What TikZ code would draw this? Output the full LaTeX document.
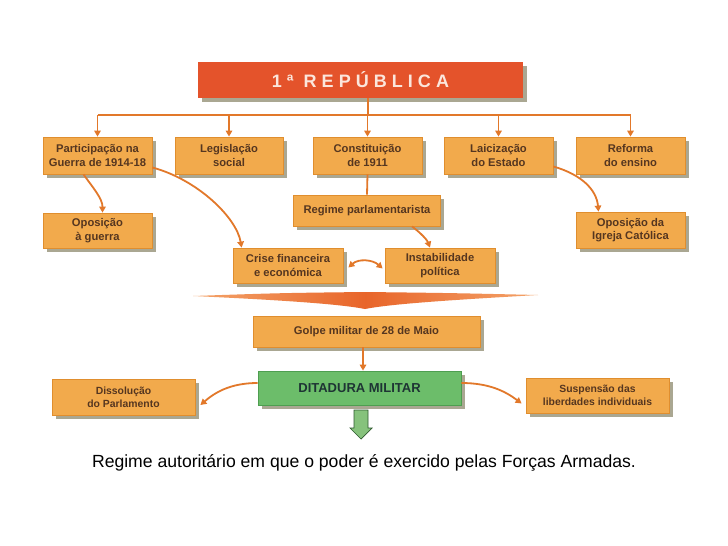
\documentclass[tikz,border=0pt]{standalone}
\usepackage{fontspec}
\setmainfont{Liberation Sans}
\usetikzlibrary{arrows.meta,shadows}
\definecolor{boxfill}{HTML}{F2AA4C}
\definecolor{boxline}{HTML}{E08E2E}
\definecolor{boxtext}{HTML}{553620}
\definecolor{shadowc}{HTML}{8E8A6E}
\definecolor{conncol}{HTML}{E2782A}
\definecolor{titlefill}{HTML}{E4532B}
\definecolor{titletext}{HTML}{FBE6DC}
\definecolor{greenfill}{HTML}{6CBD6A}
\definecolor{greenline}{HTML}{4E9E50}
\definecolor{greentext}{HTML}{1E3434}
\definecolor{arrowgreen}{HTML}{86C27C}
\definecolor{arrowline}{HTML}{2E5A2E}
\definecolor{chevdark}{HTML}{E8652A}
\definecolor{chevlight}{HTML}{F4A46A}
\tikzset{
  shad/.style={drop shadow={shadow xshift=3.5pt,shadow yshift=-3.5pt,fill=shadowc,opacity=.75}},
  orbox/.style={shad,draw=boxline,line width=0.8pt,fill=boxfill,text=boxtext,align=center,
    inner sep=1pt,font=\bfseries\fontsize{11.2}{13.5}\selectfont},
  smallbox/.style={orbox,font=\bfseries\fontsize{10.4}{13}\selectfont},
  conn/.style={draw=conncol,line width=1.8pt},
  tip/.style={-{Triangle[length=6pt,width=6.5pt]}},
  tips/.style={{Triangle[length=6pt,width=6.5pt]}-{Triangle[length=6pt,width=6.5pt]}}
}
\begin{document}
\begin{tikzpicture}[x=1pt,y=-1pt]
\useasboundingbox (0,0) rectangle (728,546);
\fill[white] (0,0) rectangle (728,546);

% title
\node[shad,fill=titlefill,minimum width=325pt,minimum height=36pt,inner sep=0pt,
  text=titletext,font=\bfseries\fontsize{18}{20}\selectfont\addfontfeatures{LetterSpace=28}]
  (title) at (360.5,80) {1ª REPÚBLICA};

% first row
\node[orbox,minimum width=109pt,minimum height=37pt] (part) at (97.5,155.5) {Participação na\\Guerra de 1914-18};
\node[orbox,minimum width=108pt,minimum height=37pt] (leg) at (229,155.5) {Legislação\\social};
\node[orbox,minimum width=109pt,minimum height=37pt] (const) at (367.5,155.5) {Constituição\\de 1911};
\node[orbox,minimum width=109pt,minimum height=37pt] (laic) at (498.5,155.5) {Laicização\\do Estado};
\node[orbox,minimum width=109pt,minimum height=37pt] (ref) at (630.5,155.5) {Reforma\\do ensino};

% second row
\node[orbox,minimum width=147pt,minimum height=31pt] (regime) at (367,210.5) {Regime parlamentarista};
\node[orbox,minimum width=109pt,minimum height=35pt] (opg) at (97.5,230.5) {Oposição\\à guerra};
\node[orbox,minimum width=109pt,minimum height=36pt] (opi) at (630.5,230) {Oposição da\\Igreja Católica};
\node[orbox,minimum width=110pt,minimum height=35pt] (crise) at (288,265.5) {Crise financeira\\e económica};
\node[orbox,minimum width=110pt,minimum height=35pt] (inst) at (440,265.5) {Instabilidade\\política};

% chevron
\path[left color=chevlight,right color=chevlight,middle color=chevdark]
  (193,296) .. controls (280,293) .. (365,292) .. controls (450,293) .. (538,295)
  .. controls (450,300) and (390,304) .. (365,309) .. controls (340,304) and (280,300) .. cycle;

\node[orbox,minimum width=227pt,minimum height=31pt] (golpe) at (366.5,331.5) {Golpe militar de 28 de Maio};

\node[shad,draw=greenline,line width=0.8pt,fill=greenfill,text=greentext,
  minimum width=203pt,minimum height=34pt,inner sep=1pt,font=\bfseries\fontsize{13}{15}\selectfont]
  (dit) at (359.5,388) {DITADURA MILITAR};
\node[smallbox,minimum width=143pt,minimum height=36pt] (dis) at (123.5,397) {Dissolução\\do Parlamento};
\node[smallbox,minimum width=143pt,minimum height=35pt] (sus) at (597.5,395.5) {Suspensão das\\liberdades individuais};

% bus from title
\coordinate (bus) at (368,115);
\draw[conn] (title.south -| bus) -- (bus);
\draw[conn] (bus -| part) -- (bus -| ref);
\foreach \b in {part,leg,const,laic,ref}{
  \draw[conn,tip] (bus -| \b) -- (\b.north);
}

% connectors
\draw[conn,tip] ([xshift=-14pt]part.south) .. controls +(10,14) and +(0,-14) .. ([xshift=5pt]opg.north);
\draw[conn,tip] ([yshift=-12pt]part.east) .. controls +(45,12) and +(-5,-30) .. ([xshift=9pt]crise.north west);
\draw[conn] (const.south) -- (regime.north);
\draw[conn,tip] ([xshift=45pt]regime.south) .. controls +(8,6) and +(-3,-8) .. ([xshift=-10pt]inst.north);
\draw[conn,tip] ([yshift=-11pt]laic.east) .. controls +(28,8) and +(-2,-22) .. ([xshift=-32pt]opi.north);
\draw[conn,tips] ([xshift=5pt,yshift=-2pt]crise.east) .. controls +(10,-9) and +(-10,-9) .. ([xshift=-2pt,yshift=-3pt]inst.west);
\draw[conn,tip] ([xshift=-3.5pt]golpe.south) -- ([xshift=-3.5pt]golpe.south |- dit.north);
\draw[conn,tip] ([yshift=5pt]dit.west) .. controls +(-28,0) and +(14,-12) .. ([xshift=5pt,yshift=-8pt]dis.east);
\draw[conn,tip] ([yshift=5pt]dit.east) .. controls +(28,0) and +(-16,-12) .. ([xshift=-4pt,yshift=-8pt]sus.west);

% green block arrow
\draw[fill=arrowgreen,draw=arrowline,line width=0.7pt]
  (354,410) -- (368,410) -- (368,428) -- (372,428) -- (361,439) -- (350,428) -- (354,428) -- cycle;

% bottom text
\node[font=\fontsize{17.6}{20}\selectfont,text=black,inner sep=0pt] (txt) at (364,463)
  {Regime autoritário em que o poder é exercido pelas Forças Armadas.};
\end{tikzpicture}
\end{document}
